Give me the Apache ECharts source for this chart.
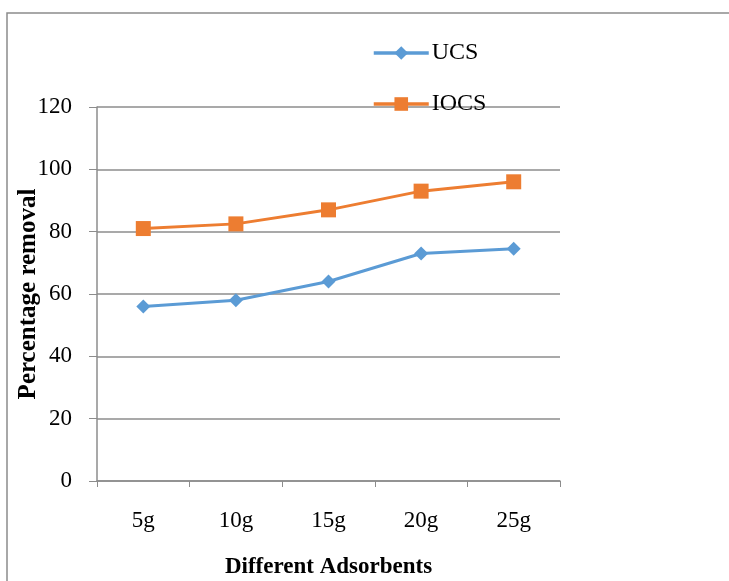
<!DOCTYPE html>
<html>
<head>
<meta charset="utf-8">
<script src="https://cdn.jsdelivr.net/npm/echarts@6/dist/echarts.min.js"></script>
<style>
  html, body { margin: 0; padding: 0; background: #fff; }
  #chart { width: 729px; height: 581px; }
</style>
</head>
<body>
<div id="chart"></div>
<script>
// data
const categories = ['5g', '10g', '15g', '20g', '25g'];
const ucs = [56, 58, 64, 73, 74.5];
const iocs = [81, 82.5, 87, 93, 96];
const yTicks = { min: 0, max: 120, interval: 20 };

const font = '"Liberation Serif", "Times New Roman", serif';
const chart = echarts.init(document.getElementById('chart'));

chart.setOption({
    backgroundColor: '#fff',
    animation: false,
    textStyle: { fontFamily: font },
    graphic: [{
        type: 'rect',
        shape: { x: 7, y: 13, width: 740, height: 600 },
        style: { fill: 'none', stroke: '#8c8c8c', lineWidth: 1.5 }
    }],
    grid: { left: 97, right: 169, top: 107, bottom: 100, outerBoundsMode: 'none' },
    legend: {
        orient: 'vertical',
        left: 372,
        top: 41,
        padding: 0,
        itemWidth: 55,
        itemHeight: 17,
        itemGap: 27,
        lineStyle: { width: 3.5 },
        textStyle: { fontFamily: font, fontSize: 24, color: '#000', padding: [0, 0, 0, -2] },
        data: ['UCS', 'IOCS']
    },
    xAxis: {
        type: 'category',
        data: categories,
        boundaryGap: true,
        name: 'Different Adsorbents',
        nameLocation: 'middle',
        nameGap: 75,
        nameMoveOverlap: false,
        nameTextStyle: { fontFamily: font, fontSize: 23, fontWeight: 'bold', color: '#000' },
        axisLine: { lineStyle: { color: '#8c8c8c', width: 1.5 } },
        axisTick: { show: true, length: 6, lineStyle: { color: '#8c8c8c' } },
        axisLabel: { fontFamily: font, fontSize: 23, color: '#000', margin: 28 }
    },
    yAxis: {
        type: 'value',
        min: yTicks.min,
        max: yTicks.max,
        interval: yTicks.interval,
        name: 'Percentage removal',
        nameLocation: 'middle',
        nameGap: 56,
        nameMoveOverlap: false,
        nameTextStyle: { fontFamily: font, fontSize: 25, fontWeight: 'bold', color: '#000' },
        axisLine: { show: true, lineStyle: { color: '#8c8c8c', width: 1.5 } },
        axisTick: { show: true, length: 8, lineStyle: { color: '#8c8c8c' } },
        axisLabel: { fontFamily: font, fontSize: 23, color: '#000', margin: 25 },
        splitLine: { lineStyle: { color: '#8c8c8c', width: 1.5 } }
    },
    series: [{
        name: 'UCS',
        type: 'line',
        data: ucs,
        symbol: 'diamond',
        symbolSize: 14,
        color: '#5b9bd5',
        lineStyle: { width: 3 }
    }, {
        name: 'IOCS',
        type: 'line',
        data: iocs,
        symbol: 'rect',
        symbolSize: 15,
        color: '#ed7d31',
        lineStyle: { width: 3 }
    }]
});
</script>
</body>
</html>
